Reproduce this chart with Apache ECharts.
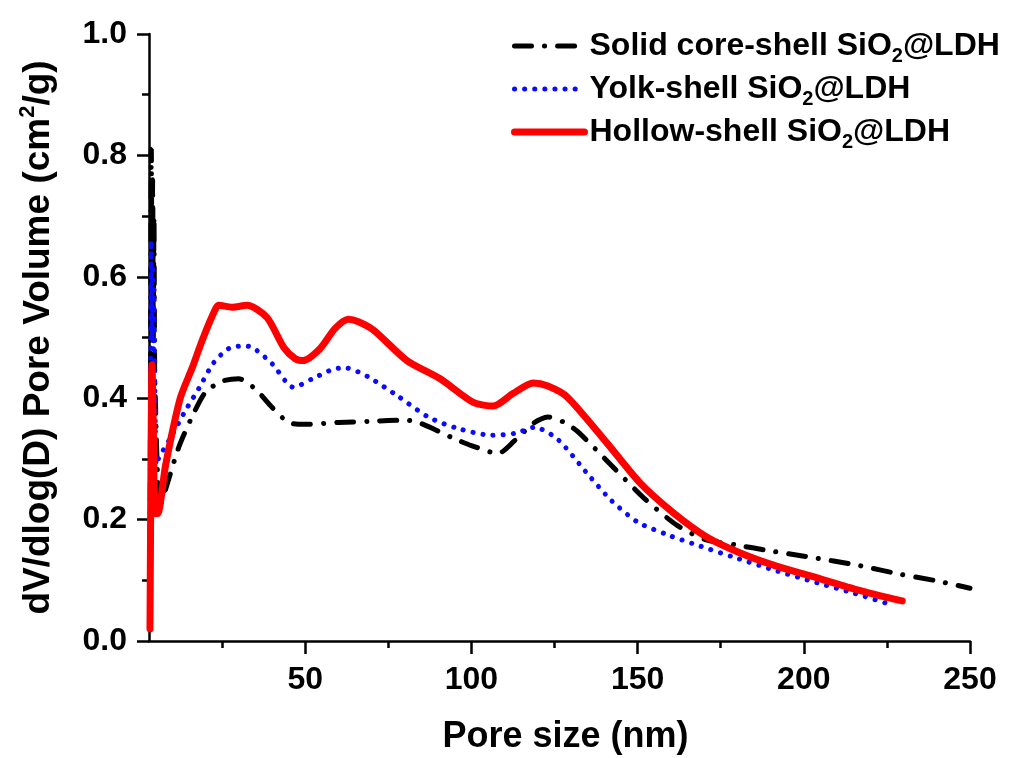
<!DOCTYPE html>
<html>
<head>
<meta charset="UTF-8">
<title>Pore size distribution</title>
<script src="https://cdn.jsdelivr.net/npm/echarts@6/dist/echarts.min.js"></script>
<style>
    body { margin: 0; padding: 0; background: #fff; }
    #main { width: 1011px; height: 758px; }
</style>
</head>
<body>
<div id="main"></div>
<script type="text/javascript">
// pore size (nm) / dV/dlog(D)
var solidData = [
    [3.3, 0.02], [3.5, 0.5], [3.7, 0.81], [3.9, 0.6], [4.1, 0.76], [4.3, 0.5], [4.5, 0.7], [4.7, 0.45],
    [5.0, 0.38], [5.4, 0.3], [6.2, 0.22], [8, 0.25], [12, 0.32], [16, 0.37], [20, 0.41], [25, 0.428],
    [30, 0.432], [35, 0.415], [40, 0.385], [45, 0.36], [50, 0.357], [60, 0.36], [70, 0.362], [80, 0.364],
    [85, 0.358], [95, 0.333], [100, 0.322], [108, 0.309], [113, 0.33], [119, 0.36], [123, 0.369],
    [128, 0.36], [132, 0.345], [142, 0.29], [152, 0.235], [162, 0.19], [171, 0.166], [180, 0.158],
    [188, 0.15], [202, 0.138], [216, 0.125], [229, 0.11], [240, 0.099], [250, 0.087]
];
var yolkData = [
    [3.3, 0.05], [3.5, 0.45], [3.7, 0.66], [3.9, 0.5], [4.1, 0.62], [4.3, 0.48], [4.5, 0.58], [4.8, 0.4],
    [5.2, 0.29], [5.8, 0.3], [9.4, 0.334], [14, 0.38], [18, 0.416], [22.4, 0.458], [27, 0.482], [31, 0.486],
    [34, 0.484], [40, 0.457], [46.5, 0.418], [52.5, 0.433], [58.5, 0.448], [62, 0.45], [69, 0.435],
    [78, 0.403], [87, 0.369], [96, 0.35], [106, 0.339], [113, 0.342], [119, 0.352], [126, 0.332],
    [135, 0.275], [142, 0.232], [150, 0.196], [159, 0.175], [169, 0.156], [179, 0.138], [191, 0.117],
    [204, 0.096], [215, 0.079], [225, 0.062]
];
var hollowData = [
    [3.3, 0.02], [3.6, 0.3], [3.9, 0.455], [4.3, 0.35], [4.8, 0.21], [5.6, 0.21], [8, 0.29], [12.4, 0.40],
    [16, 0.45], [19, 0.495], [22, 0.535], [24, 0.553], [28, 0.55], [32.5, 0.553], [38.5, 0.533],
    [43.5, 0.484], [47, 0.465], [49.4, 0.462], [54.5, 0.482], [59, 0.515], [63, 0.53], [66, 0.526],
    [70.6, 0.512], [80.6, 0.462], [90.6, 0.432], [100.6, 0.393], [106.6, 0.387], [112.6, 0.408],
    [118.6, 0.425], [123, 0.42], [128.8, 0.402], [140.8, 0.326], [150.8, 0.26], [160.8, 0.211],
    [170.9, 0.171], [180.9, 0.145], [190.9, 0.125], [204, 0.104], [216.4, 0.084], [229.6, 0.066]
];
var seriesNames = ['Solid core-shell SiO2@LDH', 'Yolk-shell SiO2@LDH', 'Hollow-shell SiO2@LDH'];
var xLabels = [50, 100, 150, 200, 250];
var xMinorTicks = [25, 75, 125, 175, 225];

var font = "'Liberation Sans', Arial, sans-serif";
var solidLine = { color: '#000', width: 5, type: [17, 13, 0.1, 13], cap: 'round' };
var yolkLine = { color: '#0a0aff', width: 5, type: [0.1, 10], cap: 'round' };
var hollowLine = { color: '#ff0000', width: 7, type: 'solid', cap: 'round' };

var myChart = echarts.init(document.getElementById('main'));

var option = {
    backgroundColor: '#fff',
    animation: false,
    grid: { left: 149, right: 41, top: 34, bottom: 117, containLabel: false, outerBoundsMode: 'none' },
    legend: {
        data: [
            { name: seriesNames[0], lineStyle: solidLine },
            { name: seriesNames[1], lineStyle: yolkLine },
            { name: seriesNames[2], lineStyle: hollowLine }
        ],
        orient: 'vertical',
        left: 506,
        top: 25,
        itemWidth: 70,
        itemHeight: 20,
        itemGap: 7,
        itemStyle: { opacity: 0 },
        formatter: function (name) {
            var p = name.split('2@');
            return '{a|' + p[0] + '}{s|2}{a|@' + p[1] + '}';
        },
        textStyle: {
            rich: {
                a: { fontFamily: font, fontWeight: 'bold', fontSize: 32, color: '#000', lineHeight: 40, verticalAlign: 'middle' },
                s: { fontFamily: font, fontWeight: 'bold', fontSize: 20, color: '#000', lineHeight: 20, verticalAlign: 'bottom' }
            }
        }
    },
    xAxis: [{
        type: 'value',
        min: 3,
        max: 250,
        name: 'Pore size (nm)',
        nameLocation: 'middle',
        nameGap: 78,
        nameTextStyle: { fontFamily: font, fontWeight: 'bold', fontSize: 36, color: '#000', padding: [0, 0, 0, 12] },
        axisLine: { show: true, onZero: false, lineStyle: { color: '#000', width: 2.5 } },
        axisTick: { show: true, length: 13, customValues: xLabels, lineStyle: { color: '#000', width: 2.5 } },
        axisLabel: { customValues: xLabels, margin: 23, fontFamily: font, fontWeight: 'bold', fontSize: 32, color: '#000' },
        splitLine: { show: false }
    }, {
        type: 'value',
        min: 3,
        max: 250,
        position: 'bottom',
        offset: 0,
        axisLine: { show: false },
        axisTick: { show: true, length: 7, customValues: xMinorTicks, lineStyle: { color: '#000', width: 2.5 } },
        axisLabel: { show: false },
        splitLine: { show: false }
    }],
    yAxis: {
        type: 'value',
        min: 0,
        max: 1,
        interval: 0.2,
        name: '{a|dV/dlog(D) Pore Volume (cm}{u|2}{a|/g)}',
        nameLocation: 'middle',
        nameGap: 88,
        nameTextStyle: {
            rich: {
                a: { fontFamily: font, fontWeight: 'bold', fontSize: 37, color: '#000', lineHeight: 44, verticalAlign: 'middle' },
                u: { fontFamily: font, fontWeight: 'bold', fontSize: 22, color: '#000', lineHeight: 22, verticalAlign: 'top' }
            }
        },
        axisLine: { show: true, onZero: false, lineStyle: { color: '#000', width: 2.5 } },
        axisTick: { show: true, length: 12, lineStyle: { color: '#000', width: 2.5 } },
        minorTick: { show: true, splitNumber: 2, length: 7, lineStyle: { color: '#000', width: 2.5 } },
        axisLabel: {
            margin: 22,
            fontFamily: font, fontWeight: 'bold', fontSize: 32, color: '#000',
            formatter: function (v) { return v.toFixed(1); }
        },
        splitLine: { show: false },
        minorSplitLine: { show: false }
    },
    series: [{
        name: seriesNames[0],
        type: 'line',
        data: solidData,
        showSymbol: false,
        symbol: 'none',
        smooth: 0.25,
        lineStyle: solidLine,
        itemStyle: { color: '#000' }
    }, {
        name: seriesNames[1],
        type: 'line',
        data: yolkData,
        showSymbol: false,
        symbol: 'none',
        smooth: 0.25,
        lineStyle: yolkLine,
        itemStyle: { color: '#0a0aff' }
    }, {
        name: seriesNames[2],
        type: 'line',
        data: hollowData,
        showSymbol: false,
        symbol: 'none',
        smooth: 0.25,
        lineStyle: hollowLine,
        itemStyle: { color: '#ff0000' }
    }]
};

myChart.setOption(option);
</script>
</body>
</html>
